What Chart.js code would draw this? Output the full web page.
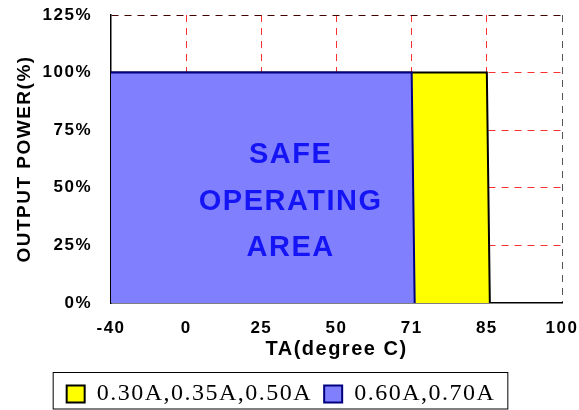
<!DOCTYPE html>
<html>
<head>
<meta charset="utf-8">
<script src="https://cdn.jsdelivr.net/npm/chart.js@4.4.1/dist/chart.umd.min.js"></script>
<style>
  html, body { margin: 0; padding: 0; background: #fff; }
  #wrap { width: 579px; height: 410px; }
</style>
</head>
<body>
<div id="wrap"><canvas id="derating-chart"></canvas></div>
<script>
// Derating curve: ambient temperature vs. output power
// x positions are tick slots (the temperature axis is not linear)
const tempTicks = ['-40', '0', '25', '50', '71', '85', '100'];
const powerTicks = [0, 25, 50, 75, 100, 125];

const lowCurrentLabel = '0.30A,0.35A,0.50A';
const lowCurrentX = [0, 5, 5.04];
const lowCurrentPower = [100, 100, 0];

const highCurrentLabel = '0.60A,0.70A';
const highCurrentX = [0, 4, 4.04];
const highCurrentPower = [100, 100, 0];

const areaText = ['SAFE', 'OPERATING', 'AREA'];

function toPoints(xs, ys) {
    return xs.map((x, i) => ({ x: x, y: ys[i] }));
}

// Chart.js measures text itself, so letter spacing is set on the context before layout and drawing
const spacingPlugin = {
    id: 'spacing',
    beforeLayout(chart) { chart.ctx.letterSpacing = '1.5px'; },
    beforeDraw(chart) { chart.ctx.letterSpacing = '1.5px'; }
};

// "SAFE OPERATING AREA" label inside the blue region
const areaTextPlugin = {
    id: 'areaText',
    afterDatasetsDraw(chart) {
        const { ctx, scales } = chart;
        const cx = scales.x.getPixelForValue(2.39);
        const rows = [64.2, 43.8, 23.9];
        ctx.save();
        ctx.letterSpacing = '1.5px';
        ctx.fillStyle = '#1414f5';
        ctx.font = 'bold 29px "Liberation Sans", Arial, sans-serif';
        ctx.textAlign = 'center';
        ctx.textBaseline = 'middle';
        areaText.forEach((t, i) => ctx.fillText(t, cx, scales.y.getPixelForValue(rows[i])));
        ctx.restore();
    }
};

// frame round the legend
const legendBoxPlugin = {
    id: 'legendBox',
    afterDraw(chart) {
        const boxes = chart.legend.legendHitBoxes;
        if (!boxes || !boxes.length) return;
        const left = Math.min(...boxes.map(b => b.left)) - 14;
        const right = Math.max(...boxes.map(b => b.left + b.width)) + 12;
        const top = Math.min(...boxes.map(b => b.top)) - 10;
        const bottom = Math.min(chart.height - 1.5, Math.max(...boxes.map(b => b.top + b.height)) + 3);
        const ctx = chart.ctx;
        ctx.save();
        ctx.strokeStyle = '#000';
        ctx.lineWidth = 1;
        ctx.strokeRect(left + 0.5, top + 0.5, right - left, bottom - top);
        ctx.restore();
    }
};

const ctx1 = document.getElementById('derating-chart').getContext('2d');
new Chart(ctx1, {
    type: 'line',
    data: {
        datasets: [{
            label: lowCurrentLabel,
            data: toPoints(lowCurrentX, lowCurrentPower),
            backgroundColor: '#ffff00',
            borderColor: '#000000',
            borderWidth: 2,
            fill: 'origin',
            pointRadius: 0,
            tension: 0,
            order: 2
        }, {
            label: highCurrentLabel,
            data: toPoints(highCurrentX, highCurrentPower),
            backgroundColor: '#8080ff',
            borderColor: '#000080',
            borderWidth: 2,
            fill: 'origin',
            pointRadius: 0,
            tension: 0,
            order: 1
        }]
    },
    options: {
        responsive: true,
        maintainAspectRatio: false,
        animation: false,
        layout: { padding: { top: 15, right: 17, left: 0, bottom: -6 } },
        plugins: {
            tooltip: { enabled: false },
            legend: {
                position: 'bottom',
                labels: {
                    color: '#000',
                    font: { family: '"Liberation Serif", "Times New Roman", serif', size: 24 },
                    boxWidth: 18,
                    boxHeight: 17,
                    padding: 12,
                    sort: (a, b) => a.datasetIndex - b.datasetIndex
                }
            }
        },
        scales: {
            x: {
                type: 'linear',
                min: 0,
                max: 6,
                afterFit: (scale) => {
                    scale.height = 67;
                    scale.paddingLeft = 0;
                    scale.paddingRight = 0;
                },
                ticks: {
                    stepSize: 1,
                    color: '#000',
                    padding: 15,
                    font: { family: '"Liberation Sans", Arial, sans-serif', size: 17, weight: 'bold' },
                    callback: (v) => tempTicks[v]
                },
                grid: {
                    drawTicks: false,
                    lineWidth: 1,
                    color: (c) => c.index === 0 ? 'rgba(0,0,0,0)' : (c.index === 6 ? '#555' : '#ff3030')
                },
                border: { display: true, color: '#000', width: 1.5, dash: [7, 6] },
                title: {
                    display: true,
                    text: 'TA(degree C)',
                    color: '#000',
                    padding: { top: 0, bottom: 9 },
                    font: { family: '"Liberation Sans", Arial, sans-serif', size: 20, weight: 'bold' }
                }
            },
            y: {
                min: 0,
                max: 125,
                afterFit: (scale) => {
                    scale.width = 111;
                    scale.paddingTop = 0;
                    scale.paddingBottom = 0;
                },
                afterBuildTicks: (scale) => { scale.ticks = powerTicks.map(v => ({ value: v })); },
                ticks: {
                    color: '#000',
                    padding: 19,
                    font: { family: '"Liberation Sans", Arial, sans-serif', size: 17, weight: 'bold' },
                    callback: (v) => v + '%'
                },
                grid: {
                    drawTicks: false,
                    lineWidth: 1,
                    color: (c) => c.index === 0 ? 'rgba(0,0,0,0)' : (c.index === 5 ? '#400000' : '#ff3030')
                },
                border: { display: true, color: '#000', width: 1.5, dash: [7, 6] },
                title: {
                    display: true,
                    text: 'OUTPUT POWER(%)',
                    color: '#000',
                    padding: { top: 13, bottom: 0 },
                    font: { family: '"Liberation Sans", Arial, sans-serif', size: 19, weight: 'bold' }
                }
            }
        }
    },
    plugins: [spacingPlugin, areaTextPlugin, legendBoxPlugin]
});
</script>
</body>
</html>
